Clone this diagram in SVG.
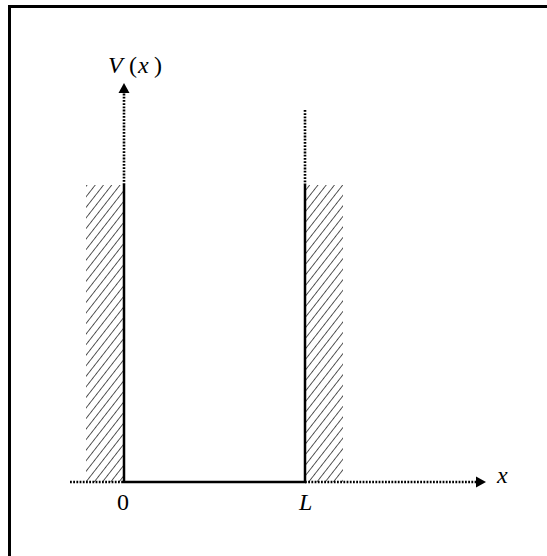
<svg xmlns="http://www.w3.org/2000/svg" width="547" height="556" viewBox="0 0 547 556">
<style>
.solid{stroke:#000;stroke-width:2.5;fill:none}
.dot{stroke:#000;stroke-width:2.6;stroke-dasharray:1.8 1.4;fill:none}
.lbl{font-family:"Liberation Serif","DejaVu Serif",serif;font-size:24px;fill:#000}
.it{font-style:italic}
</style>
<defs>
<pattern id="hatch" width="6.5" height="6.5" patternUnits="userSpaceOnUse" patternTransform="rotate(38)">
<line x1="0" y1="0" x2="0" y2="6.5" stroke="#111" stroke-width="1.4"/>
</pattern>
</defs>
<rect x="0" y="0" width="547" height="556" fill="#fff"/>
<rect x="9.5" y="6.5" width="600" height="600" fill="none" stroke="#000" stroke-width="3"/>
<g id="wall-left">
<rect x="86" y="185" width="38" height="297" fill="url(#hatch)"/>
</g>
<g id="wall-right">
<rect x="305" y="185" width="38" height="297" fill="url(#hatch)"/>
</g>
<g id="connectors">
<line class="dot" x1="124" y1="185" x2="124" y2="93"/>
<path d="M118.5,93 L124,83 L129.5,93 Z" fill="#000"/>
<line class="dot" x1="305" y1="110" x2="305" y2="185"/>
<line class="solid" x1="124" y1="185" x2="124" y2="483"/>
<line class="solid" x1="305" y1="185" x2="305" y2="483"/>
<line class="dot" x1="70" y1="482" x2="124" y2="482"/>
<line class="solid" x1="123" y1="482" x2="306" y2="482"/>
<line class="dot" x1="305" y1="482" x2="476" y2="482"/>
<path d="M476,476.5 L486,482 L476,487.5 Z" fill="#000"/>
</g>
<g id="labels">
<text class="lbl" y="73"><tspan class="it" x="108">V</tspan><tspan x="129">(</tspan><tspan class="it" x="138">x</tspan><tspan x="154">)</tspan></text>
<text class="lbl" x="123" y="510" text-anchor="middle">0</text>
<text class="lbl it" x="299" y="510">L</text>
<text class="lbl it" x="497" y="483">x</text>
</g>
</svg>
